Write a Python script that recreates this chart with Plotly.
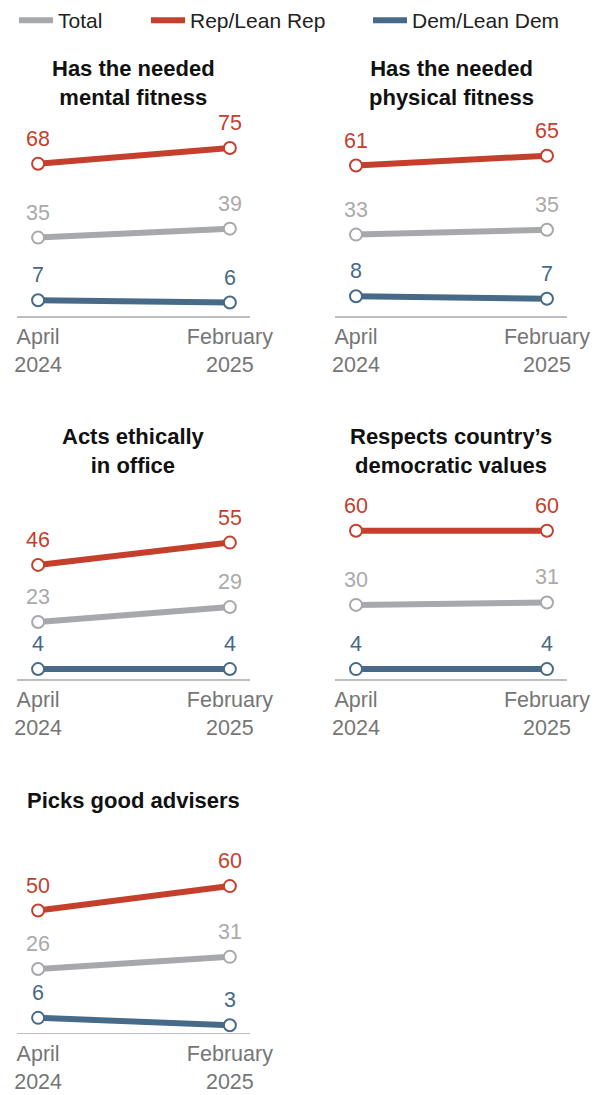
import plotly.graph_objects as go

# ---------------- data ----------------
periods = ["April<br>2024", "February<br>2025"]
panel_titles = [
    "Has the needed<br>mental fitness",
    "Has the needed<br>physical fitness",
    "Acts ethically<br>in office",
    "Respects country’s<br>democratic values",
    "Picks good advisers",
]
total_vals = [[35, 39], [33, 35], [23, 29], [30, 31], [26, 31]]
rep_vals = [[68, 75], [61, 65], [46, 55], [60, 60], [50, 60]]
dem_vals = [[7, 6], [8, 7], [4, 4], [4, 4], [6, 3]]
series_names = ["Total", "Rep/Lean Rep", "Dem/Lean Dem"]

# ---------------- style ----------------
W, H = 607, 1095
C_TOTAL, C_REP, C_DEM = "#A7A8AB", "#C4402D", "#466A87"
C_TOTAL_TXT = "#AAAAAA"
FONT = "Liberation Sans, Arial, sans-serif"

col_px = [(17, 250), (335, 567), (17, 250), (335, 567), (17, 250)]
base_px = [316, 316, 679, 679, 1032.5]
scale_px = [2.24, 2.466, 2.48, 2.47, 2.44]
title_ypx = [83, 83, 450.5, 450.5, 800]
YMAX = 80

fig = go.Figure()
annotations = []
layout_axes = {}

series = [
    (series_names[0], total_vals, C_TOTAL, C_TOTAL_TXT, 83),
    (series_names[1], rep_vals, C_REP, C_REP, 173),
    (series_names[2], dem_vals, C_DEM, C_DEM, 160),
]

xs = list(range(len(periods)))

for i in range(len(panel_titles)):
    n = "" if i == 0 else str(i + 1)
    xa, ya = "x" + n, "y" + n
    l, r = col_px[i]
    b = base_px[i]
    top = b - YMAX * scale_px[i]
    layout_axes["xaxis" + n] = dict(
        domain=[l / W, r / W], anchor=ya, range=[-0.11, 1.105],
        tickvals=xs, ticktext=periods, showgrid=False, zeroline=False,
        showline=True, linecolor="#BDBDBD", linewidth=1.5, ticks="",
        tickfont=dict(family=FONT, size=21.5, color="#767676"),
        ticklabelstandoff=1, fixedrange=True, automargin=False,
    )
    layout_axes["yaxis" + n] = dict(
        domain=[1 - b / H, 1 - top / H], anchor=xa, range=[0, YMAX],
        showgrid=False, zeroline=False, showticklabels=False, showline=False,
        fixedrange=True, automargin=False,
    )
    # lines first (these carry the legend entries)
    for name, vals, col, tcol, lw in series:
        fig.add_trace(go.Scatter(
            x=xs, y=vals[i], xaxis=xa, yaxis=ya, name=name,
            legendgroup=name, showlegend=(i == 0), legendwidth=lw,
            mode="lines", line=dict(color=col, width=6),
            hoverinfo="skip",
        ))
    # open-circle markers on top
    for name, vals, col, tcol, lw in series:
        fig.add_trace(go.Scatter(
            x=xs, y=vals[i], xaxis=xa, yaxis=ya, name=name,
            legendgroup=name, showlegend=False,
            mode="markers",
            marker=dict(size=12, color="white", line=dict(color=col, width=2)),
            hoverinfo="skip",
        ))
        for xi, v in zip(xs, vals[i]):
            annotations.append(dict(
                x=xi, y=v, xref=xa, yref=ya, text=str(v), showarrow=False,
                yshift=25, font=dict(family=FONT, size=21.5, color=tcol),
            ))
    annotations.append(dict(
        x=(l + r) / 2 / W, y=1 - title_ypx[i] / H, xref="paper", yref="paper",
        text="<b>" + panel_titles[i] + "</b>", showarrow=False,
        xanchor="center", yanchor="middle", align="center",
        font=dict(family=FONT, size=22, color="#111111"),
    ))

fig.update_layout(
    width=W, height=H,
    margin=dict(l=0, r=0, t=0, b=0, autoexpand=False),
    paper_bgcolor="white", plot_bgcolor="white",
    showlegend=True,
    legend=dict(
        orientation="h", x=14 / W, xanchor="left", y=1, yanchor="top",
        itemwidth=34, font=dict(family=FONT, size=21, color="#222222"),
        bgcolor="rgba(0,0,0,0)", traceorder="normal",
    ),
    annotations=annotations,
    **layout_axes,
)

fig.write_html(
    "out.html",
    config={"displayModeBar": False, "staticPlot": True},
    post_script="document.body.style.margin='0';document.body.style.overflow='hidden';",
)
